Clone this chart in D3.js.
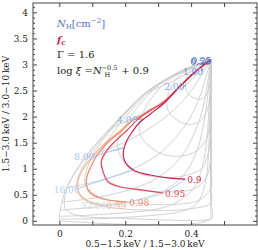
<!DOCTYPE html>
<html><head><meta charset="utf-8">
<script src="https://cdn.jsdelivr.net/npm/d3@7"></script>
<style>
body{margin:0;background:#fff}
svg{display:block}
text{font-family:"DejaVu Serif","Liberation Serif",serif;fill:#1a1a1a}
</style></head>
<body><svg id="chart" width="258" height="250"></svg>
<script>
// ---------------- data ----------------
const xTickVals = [0, 0.1, 0.2, 0.3, 0.4, 0.5];
const xTickLabels = ["0", "", "0.2", "", "0.4", ""];
const yTickVals = [0, 0.5, 1, 1.5, 2, 2.5, 3, 3.5, 4];
const yTickLabels = ["0", "0.5", "1", "1.5", "2", "2.5", "3", "3.5", "4"];
const yMinorVals = [0.1,0.2,0.3,0.4,0.6,0.7,0.8,0.9,1.1,1.2,1.3,1.4,1.6,1.7,1.8,1.9,2.1,2.2,2.3,2.4,2.6,2.7,2.8,2.9,3.1,3.2,3.3,3.4,3.6,3.7,3.8,3.9,4.1];

// gray model grid: rows = covering fraction, columns = increasing N_H
const gridFc = [1, 0.999, 0.99, 0.98, 0.95, 0.9, 0.8, 0.6, 0.4];
const gridRows = [
 [[.46,3.09],[.397,2.952],[.336,2.76],[.261,2.453],[.155,1.781],[.079,1.225],[.021,.63],[.008,.357],[.003,.207],[0,.087],[0,.035],[0,0],null,null,null,null],
 [[.46,3.09],[.397,2.951],[.336,2.761],[.261,2.454],[.156,1.782],[.080,1.229],[.024,.636],[.015,.362],[.020,.215],[.058,.099],[.17,.055],[.46,.038],[.46,.075],[.46,.281],[.46,1.031],[.46,3.09]],
 [[.46,3.09],[.398,2.951],[.337,2.762],[.263,2.459],[.161,1.796],[.091,1.248],[.051,.668],[.073,.409],[.133,.282],[.272,.203],[.394,.228],[.46,.346],[.46,.623],[.46,1.553],[.46,2.579],[.46,3.09]],
 [[.46,3.09],[.399,2.953],[.339,2.766],[.266,2.466],[.167,1.811],[.102,1.27],[.078,.705],[.123,.46],[.206,.354],[.343,.313],[.425,.401],[.46,.628],[.46,1.044],[.46,2.074],[.46,2.814],[.46,3.09]],
 [[.46,3.09],[.401,2.957],[.343,2.776],[.274,2.486],[.183,1.854],[.132,1.337],[.143,.811],[.219,.608],[.311,.558],[.406,.609],[.446,.828],[.46,1.226],[.46,1.756],[.46,2.597],[.46,2.977],[.46,3.09]],
 [[.46,3.09],[.404,2.964],[.35,2.793],[.286,2.519],[.209,1.926],[.176,1.447],[.218,.981],[.301,.838],[.375,.86],[.433,1.011],[.453,1.335],[.46,1.797],[.46,2.272],[.46,2.835],[.46,3.035],[.46,3.09]],
 [[.46,3.09],[.41,2.978],[.364,2.826],[.31,2.584],[.254,2.066],[.245,1.661],[.305,1.3],[.372,1.244],[.418,1.351],[.448,1.588],[.457,1.944],[.46,2.341],[.46,2.664],[.46,2.971],[.46,3.06],[.46,3.09]],
 [[.46,3.09],[.423,3.006],[.39,2.893],[.354,2.714],[.327,2.339],[.335,2.061],[.385,1.858],[.423,1.892],[.443,2.043],[.455,2.271],[.459,2.529],[.46,2.759],[.46,2.915],[.46,3.059],[.46,3.08],[.46,3.09]],
 [[.46,3.09],[.436,3.034],[.414,2.959],[.393,2.841],[.382,2.6],[.392,2.431],[.423,2.331],[.443,2.386],[.452,2.507],[.458,2.661],[.46,2.812],[.46,2.934],[.46,3.01],[.46,3.07],[.46,3.085],[.46,3.09]]
];
const nhLineCols = [1,2,3,4,5,6,7,8,9,10,11];

// coloured covering-fraction contours
const fcLabels = ["0.9", "0.95", "0.98", "0.99"];
const fcColors = ["#c51f4e", "#e2475c", "#f0886a", "#f6b68c"];
const fc090 = [[.46,3.09],[.412,2.856],[.367,2.587],[.315,2.242],[.276,2.05],[.245,1.896],[.221,1.704],[.203,1.512],[.194,1.321],[.197,1.167],[.209,1.052],[.230,.956],[.276,.879],[.336,.821],[.382,.802]];
const fc095 = [[.46,3.09],[.412,2.856],[.367,2.587],[.315,2.261],[.276,2.127],[.236,1.935],[.206,1.743],[.164,1.493],[.139,1.301],[.127,1.129],[.133,.937],[.148,.745],[.185,.649],[.255,.591],[.315,.534]];
const fc098 = [[.46,3.09],[.412,2.856],[.367,2.587],[.315,2.28],[.261,2.05],[.224,1.935],[.185,1.704],[.145,1.493],[.115,1.263],[.097,1.052],[.085,.879],[.082,.687],[.094,.534],[.133,.418],[.206,.361]];
const fc099 = [[.46,3.09],[.412,2.856],[.367,2.587],[.315,2.28],[.261,2.069],[.215,1.896],[.176,1.685],[.133,1.455],[.1,1.225],[.076,1.033],[.061,.86],[.055,.668],[.064,.495],[.094,.361],[.136,.303]];
const fcCurves = [fc090, fc095, fc098, fc099];

// N_H lines (points at f_c = 0.99, 0.98, 0.95, 0.9)
const nhLabels = ["0.25", "0.50", "1.00", "2.00", "4.00", "8.00", "16.00", "32.00"];
const nhColors = ["#4467c9", "#4f74cf", "#6a95dc", "#78a4e2", "#8db6ea", "#a0c4ef", "#b3d1f3", "#c6ddf6"];
const nhLines = [
 [[.456,3.072],[.457,3.075],[.458,3.08],[.459,3.085]],
 [[.452,3.055],[.454,3.06],[.456,3.066],[.458,3.074]],
 [[.43,2.87],[.432,2.88],[.434,2.9],[.437,2.92]],
 [[.374,2.57],[.376,2.575],[.379,2.585],[.384,2.6]],
 [[.23,1.95],[.232,1.95],[.24,1.95],[.256,1.95]],
 [[.1,1.225],[.118,1.26],[.142,1.31],[.194,1.40]],
 [[.055,.61],[.083,.68],[.14,.80],[.226,.975]],
 [[.136,.303],[.206,.361],[.315,.534],[.382,.802]]
];

// ---------------- drawing ----------------
const svg = d3.select("#chart");
const x = d3.scaleLinear().domain([-0.08, 0.6]).range([33, 257]);
const y = d3.scaleLinear().domain([-0.08, 4.18]).range([225, 3]);
const line = d3.line().x(d => x(d[0])).y(d => y(d[1])).curve(d3.curveCatmullRom.alpha(0.5));

const plot = svg.append("g");
plot.append("clipPath").attr("id","clp").append("rect").attr("x",33).attr("y",3).attr("width",224).attr("height",222);
const g = plot.append("g").attr("clip-path","url(#clp)");

// gray grid: constant f_c loops
gridRows.forEach(r => {
  g.append("path").attr("d", line(r.filter(p => p))).attr("fill","none")
   .attr("stroke","#cdcdcd").attr("stroke-width",0.9);
});
// gray grid: constant N_H lines
nhLineCols.forEach(c => {
  const pts = [gridRows[0][0]].concat(gridRows.slice().reverse().map(r => r[c]).filter(p => p));
  g.append("path").attr("d", line(pts)).attr("fill","none")
   .attr("stroke","#cdcdcd").attr("stroke-width",0.9);
});

// blue N_H segments
nhLines.forEach((pts, i) => {
  g.append("path").attr("d", line(pts)).attr("fill","none")
   .attr("stroke", nhColors[i]).attr("stroke-width",1.1);
});
// coloured contours (draw 0.99 first, 0.9 last)
for (let i = fcCurves.length - 1; i >= 0; i--) {
  g.append("path").attr("d", line(fcCurves[i])).attr("fill","none")
   .attr("stroke", fcColors[i]).attr("stroke-width",1.2);
}
// labels
nhLines.forEach((pts, i) => {
  svg.append("text").attr("x", x(pts[0][0]) + 2).attr("y", y(pts[0][1]) + 3.5)
    .attr("text-anchor","end").attr("font-size",9).style("fill", nhColors[i]).text(nhLabels[i]);
});
fcCurves.forEach((pts, i) => {
  const e = pts[pts.length - 1];
  svg.append("text").attr("x", x(e[0]) + 2).attr("y", y(e[1]) + 3.5)
    .attr("font-size",9).style("fill", fcColors[i]).text(fcLabels[i]);
});

// axes
const axB = d3.axisBottom(x).tickValues(xTickVals).tickSize(-4).tickPadding(5.5)
  .tickFormat((d,i) => xTickLabels[i]);
const axT = d3.axisTop(x).tickValues(xTickVals).tickSize(-4).tickFormat("");
const axL = d3.axisLeft(y).tickValues(yTickVals).tickSize(-4).tickPadding(5)
  .tickFormat((d,i) => yTickLabels[i]);
const axR = d3.axisRight(y).tickValues(yTickVals).tickSize(-4).tickFormat("");
const axLm = d3.axisLeft(y).tickValues(yMinorVals).tickSize(-2).tickFormat("");
const axRm = d3.axisRight(y).tickValues(yMinorVals).tickSize(-2).tickFormat("");
function styleAx(sel){ sel.select(".domain").remove(); sel.selectAll("line").attr("stroke","#444");
  sel.selectAll("text").attr("font-size",9).style("font-family",'"DejaVu Serif",serif').style("fill","#1a1a1a"); }
svg.append("g").attr("transform","translate(0,225)").call(axB).call(styleAx);
svg.append("g").attr("transform","translate(0,3)").call(axT).call(styleAx);
svg.append("g").attr("transform","translate(33,0)").call(axL).call(styleAx);
svg.append("g").attr("transform","translate(257,0)").call(axR).call(styleAx);
svg.append("g").attr("transform","translate(33,0)").call(axLm).call(styleAx);
svg.append("g").attr("transform","translate(257,0)").call(axRm).call(styleAx);
svg.append("rect").attr("x",33).attr("y",3).attr("width",224).attr("height",222)
  .attr("fill","none").attr("stroke","#444").attr("stroke-width",1);

// axis titles
svg.append("text").attr("x",145).attr("y",247).attr("text-anchor","middle").attr("font-size",9)
  .text("0.5\u22121.5\u2009keV / 1.5\u22123.0\u2009keV");
svg.append("text").attr("transform","translate(9,114) rotate(-90)").attr("text-anchor","middle").attr("font-size",9)
  .text("1.5\u22123.0\u2009keV / 3.0\u221210\u2009keV");

// legend
const leg = svg.append("g").attr("font-size",10);
const t1 = leg.append("text").attr("x",57).attr("y",27).style("fill","#5574c8");
t1.append("tspan").attr("font-style","italic").text("N");
t1.append("tspan").attr("font-size",7).attr("dy",2).text("H");
t1.append("tspan").attr("dy",-2).text("[cm");
t1.append("tspan").attr("font-size",7).attr("dy",-4).text("\u22122");
t1.append("tspan").attr("dy",4).text("]");
const t2 = leg.append("text").attr("x",57).attr("y",43).style("fill","#c51f4e").attr("font-weight","bold");
t2.append("tspan").attr("font-style","italic").text("f");
t2.append("tspan").attr("font-size",7).attr("dy",2).text("c");
leg.append("text").attr("x",57).attr("y",58).text("\u0393 = 1.6");
const t4 = leg.append("text").attr("x",57).attr("y",74);
t4.append("tspan").text("log ");
t4.append("tspan").attr("font-style","italic").text("\u03BE");
t4.append("tspan").text(" =");
t4.append("tspan").attr("font-style","italic").text("N");
t4.append("tspan").attr("font-size",6.5).attr("dy",-4).text("\u22120.5");
t4.append("tspan").attr("font-size",6.5).attr("dx",-13).attr("dy",7).text("H");
t4.append("tspan").attr("dy",-3).attr("dx",8).text(" + 0.9");
</script></body></html>
